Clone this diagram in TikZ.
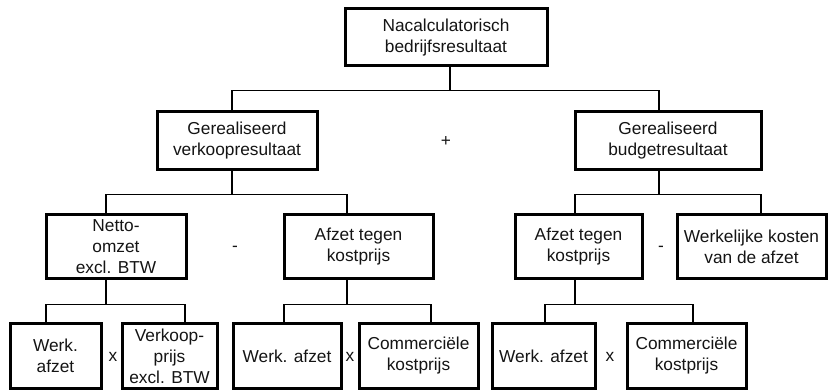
\documentclass[tikz,border=0pt]{standalone}
\usepackage{fontspec}
\setmainfont{Liberation Sans}
\begin{document}
\begin{tikzpicture}[x=1pt,y=-1pt,
  box/.style={draw, line width=3pt, inner sep=0pt, align=center,
    font=\fontsize{17.3}{21}\selectfont, text=black!92},
  conn/.style={line width=1.9pt},
  op/.style={font=\fontsize{17.3}{21}\selectfont, text=black!92, inner sep=0pt}]
\useasboundingbox (0,0) rectangle (828,390);
% level 1
\node[box, minimum width=202pt, minimum height=57pt] (T) at (446,37.5) {Nacalculatorisch\\bedrijfsresultaat};
% level 2
\node[box, minimum width=160pt, minimum height=58pt] (L2a) at (237,141) {Gerealiseerd\\verkoopresultaat};
\node[box, minimum width=186pt, minimum height=58pt] (L2b) at (668,141) {Gerealiseerd\\budgetresultaat};
\node[op] (plus) at (446,142) {+};
% level 3
\node[box, minimum width=140pt, minimum height=64pt] (netto) at (116,247) {Netto-\\omzet\\excl. BTW};
\node[box, minimum width=149pt, minimum height=64pt] (afz1) at (358.5,247) {Afzet tegen\\kostprijs};
\node[box, minimum width=127pt, minimum height=64pt] (afz2) at (578.5,247) {Afzet tegen\\kostprijs};
\node[box, minimum width=149pt, minimum height=64pt] (werk) at (751.5,247) {Werkelijke kosten\\van de afzet};
\node[op] (min1) at (235,249) {-};
\node[op] (min2) at (661,249) {-};
% level 4
\node[box, minimum width=91pt, minimum height=65pt] (wa1) at (55.5,356) {Werk.\\afzet};
\node[box, minimum width=95pt, minimum height=65pt] (vp) at (169.5,356) {Verkoop-\\prijs\\excl. BTW};
\node[box, minimum width=108pt, minimum height=65pt] (wa2) at (287,356) {Werk. afzet};
\node[box, minimum width=119pt, minimum height=65pt] (cp1) at (418.5,356) {Commerciële\\kostprijs};
\node[box, minimum width=103pt, minimum height=65pt] (wa3) at (543.5,356) {Werk. afzet};
\node[box, minimum width=119pt, minimum height=65pt] (cp3) at (686.5,356) {Commerciële\\kostprijs};
\node[op] (x1) at (113,357) {x};
\node[op] (x2) at (350,357) {x};
\node[op] (x3) at (610,357) {x};
% connectors
\draw[conn] ([xshift=4pt]T.south) -- ++(0,23) coordinate (j1);
\draw[conn] ([xshift=-5pt]L2a.north) |- (j1) -| ([xshift=-9pt]L2b.north);
\draw[conn] ([xshift=-5pt]L2a.south) -- ++(0,23) coordinate (j2);
\draw[conn] ([xshift=-10pt]netto.north) |- (j2) -| ([xshift=-11.5pt]afz1.north);
\draw[conn] ([xshift=-9pt]L2b.south) -- ++(0,23) coordinate (j3);
\draw[conn] ([xshift=-3.5pt]afz2.north) |- (j3) -| ([xshift=9.5pt]werk.north);
\draw[conn] ([xshift=-10pt]netto.south) -- ++(0,24) coordinate (j4);
\draw[conn] ([xshift=-9.5pt]wa1.north) |- (j4) -| ([xshift=15.5pt]vp.north);
\draw[conn] ([xshift=-11.5pt]afz1.south) -- ++(0,24) coordinate (j5);
\draw[conn] ([xshift=-3pt]wa2.north) |- (j5) -| ([xshift=12.5pt]cp1.north);
\draw[conn] ([xshift=-3.5pt]afz2.south) -- ++(0,24) coordinate (j6);
\draw[conn] ([xshift=1.5pt]wa3.north) |- (j6) -| ([xshift=6.5pt]cp3.north);
\end{tikzpicture}
\end{document}
